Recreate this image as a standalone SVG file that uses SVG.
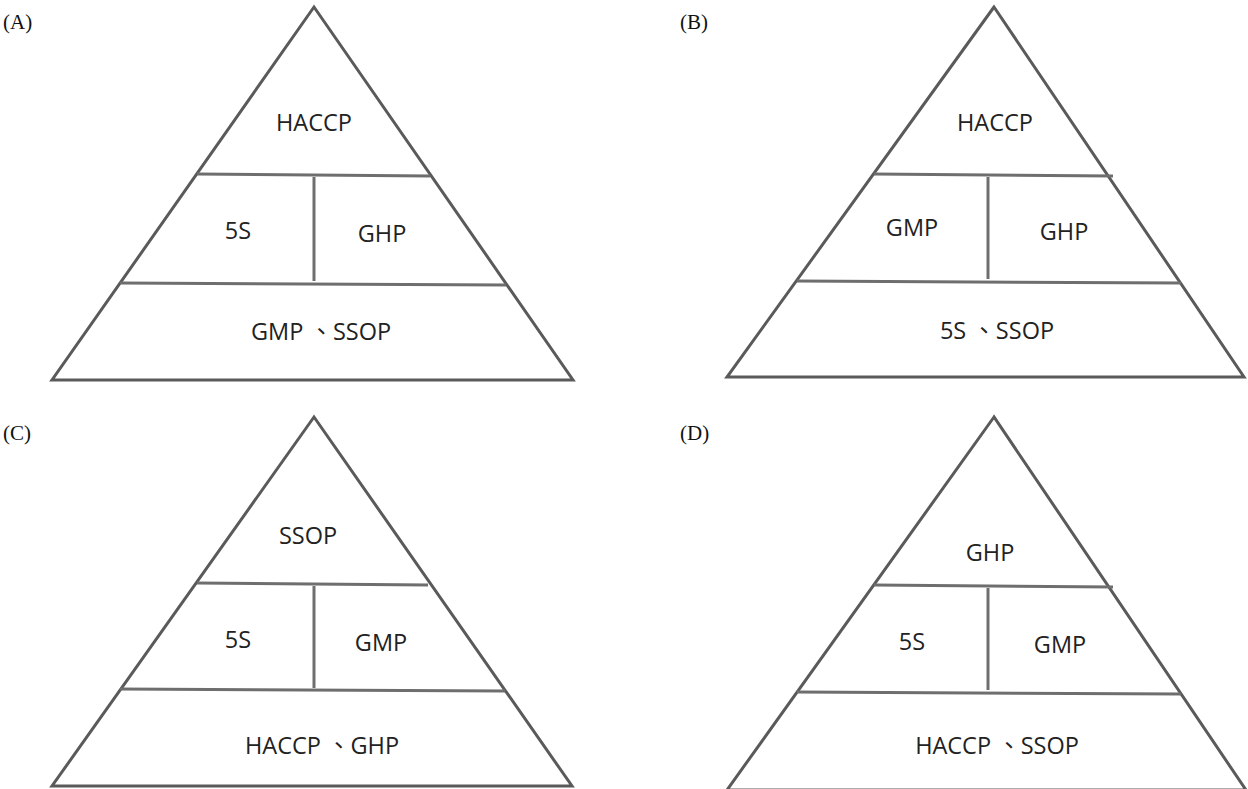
<svg xmlns="http://www.w3.org/2000/svg" width="1248" height="789" viewBox="0 0 1248 789">
<style>
.tri{fill:#fff;stroke:#5a5a5a;stroke-width:3;stroke-linejoin:miter}
.div{stroke:#6e6e6e;stroke-width:3;fill:none}
.lbl{font-family:"Open Sans","Noto Sans CJK TC",sans-serif;font-size:23.5px;fill:#222;text-anchor:middle}
.pl{font-family:"Liberation Serif","Noto Sans CJK TC",serif;font-size:21px;fill:#111}
</style>
<rect width="1248" height="789" fill="#fff"/>
<g id="panelA">
<text class="pl" x="3" y="29">(A)</text>
<polygon class="tri" points="314,7 52,380 573,380"/>
<g class="connectors">
<line class="div" x1="197" y1="174" x2="430" y2="176"/>
<line class="div" x1="120" y1="283" x2="506" y2="285"/>
<line class="div" x1="314" y1="177" x2="314" y2="281"/>
</g>
<text class="lbl" x="314" y="131">HACCP</text>
<text class="lbl" x="238" y="239">5S</text>
<text class="lbl" x="382" y="242">GHP</text>
<text class="lbl" x="321" y="340">GMP 、SSOP</text>
</g>
<g id="panelB">
<text class="pl" x="680" y="29">(B)</text>
<polygon class="tri" points="994,7 727,377 1244,377"/>
<g class="connectors">
<line class="div" x1="874" y1="174" x2="1113" y2="176"/>
<line class="div" x1="797" y1="281" x2="1181" y2="283"/>
<line class="div" x1="988" y1="177" x2="988" y2="279"/>
</g>
<text class="lbl" x="995" y="131">HACCP</text>
<text class="lbl" x="912" y="236">GMP</text>
<text class="lbl" x="1064" y="240">GHP</text>
<text class="lbl" x="997" y="339">5S 、SSOP</text>
</g>
<g id="panelC">
<text class="pl" x="3" y="440">(C)</text>
<polygon class="tri" points="314,417 52,786 572,786"/>
<g class="connectors">
<line class="div" x1="197" y1="583" x2="428" y2="585"/>
<line class="div" x1="120" y1="689" x2="505" y2="691"/>
<line class="div" x1="314" y1="586" x2="314" y2="688"/>
</g>
<text class="lbl" x="308" y="544">SSOP</text>
<text class="lbl" x="238" y="648">5S</text>
<text class="lbl" x="381" y="651">GMP</text>
<text class="lbl" x="322" y="754">HACCP 、GHP</text>
</g>
<g id="panelD">
<text class="pl" x="680" y="440">(D)</text>
<polygon class="tri" points="994,417 727,790 1246,790"/>
<g class="connectors">
<line class="div" x1="874" y1="585" x2="1113" y2="587"/>
<line class="div" x1="797" y1="692" x2="1181" y2="694"/>
<line class="div" x1="988" y1="588" x2="988" y2="690"/>
</g>
<text class="lbl" x="990" y="561">GHP</text>
<text class="lbl" x="912" y="650">5S</text>
<text class="lbl" x="1060" y="653">GMP</text>
<text class="lbl" x="997" y="754">HACCP 、SSOP</text>
</g>
</svg>
